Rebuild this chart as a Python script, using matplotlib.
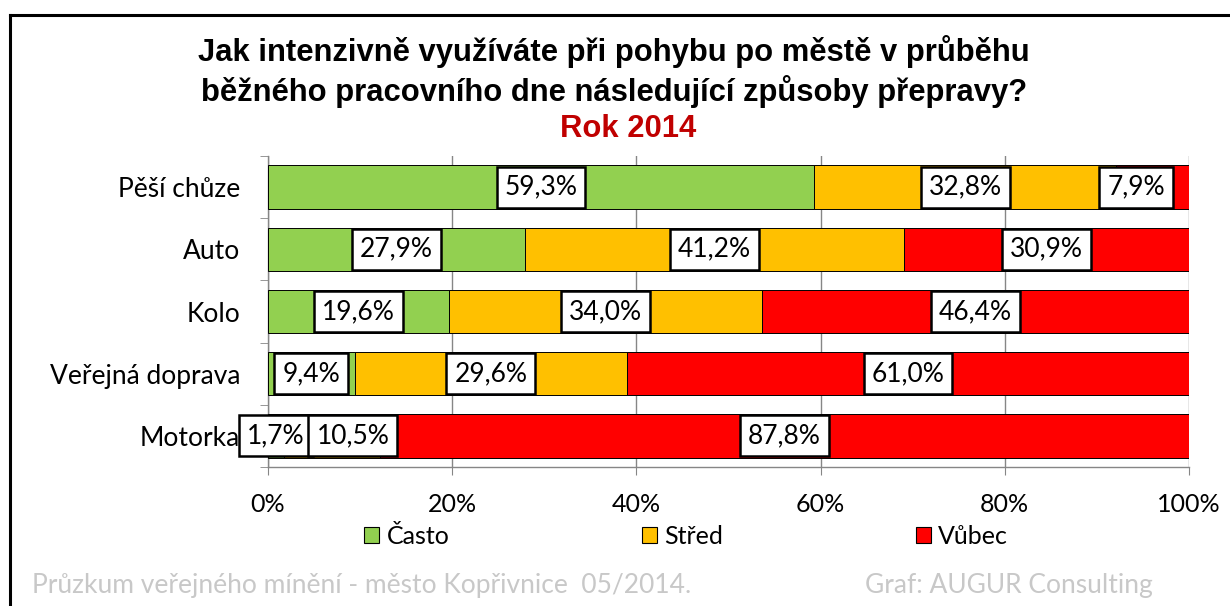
import matplotlib
matplotlib.use("Agg")
import matplotlib.pyplot as plt
import numpy as np
from matplotlib.patches import Patch
from matplotlib.lines import Line2D

# data
categories = ['Pěší chůze', 'Auto', 'Kolo', 'Veřejná doprava', 'Motorka']
series_names = ['Často', 'Střed', 'Vůbec']
casto = [59.3, 27.9, 19.6, 9.4, 1.7]
stred = [32.8, 41.2, 34.0, 29.6, 10.5]
vubec = [7.9, 30.9, 46.4, 61.0, 87.8]
tick_values = [0, 20, 40, 60, 80, 100]

colors = ['#92d050', '#ffc000', '#ff0000']
plt.rcParams['font.family'] = ['Lato', 'DejaVu Sans']

# posuny popisku (v bodech), kde je Excel odsunul kvuli prekryvu
nudges = {('Motorka', 'Střed'): 15, ('Pěší chůze', 'Vůbec'): -12}

fig = plt.figure(figsize=(12.3, 6.06), dpi=100)
ax = fig.add_axes([268 / 1230, 139 / 606, 921 / 1230, 311 / 606])

y = np.arange(len(categories))
left = np.zeros(len(categories))
for name, vals, col in zip(series_names, [casto, stred, vubec], colors):
    vals = np.array(vals)
    ax.barh(y, vals, left=left, height=0.7, color=col, edgecolor='black',
            linewidth=0.7, label=name, zorder=3)
    # popisky uprostred segmentu
    for i, v in enumerate(vals):
        cx = left[i] + v / 2
        dx = nudges.get((categories[i], name), 0)
        ax.annotate(f'{v:.1f}%'.replace('.', ','), (cx, y[i]),
                    xytext=(dx, 0), textcoords='offset points',
                    ha='center', va='center', fontsize=19, zorder=5,
                    bbox=dict(boxstyle='square,pad=0.3', fc='white',
                              ec='black', lw=1.8))
    left = left + vals

ax.set_xlim(0, 100)
ax.set_ylim(len(categories) - 0.5, -0.5)
ax.set_xticks(tick_values)
ax.set_xticklabels([f'{t}%' for t in tick_values], fontsize=18)
ax.set_yticks(y)
ax.set_yticklabels(categories, fontsize=19)
ax.set_yticks(np.arange(len(categories) + 1) - 0.5, minor=True)
ax.tick_params(axis='y', which='major', length=0, pad=20)
ax.tick_params(axis='y', which='minor', length=6, color='#868686', direction='out')
ax.tick_params(axis='x', length=6, color='#868686', pad=13)
ax.xaxis.grid(True, color='#868686', linewidth=1, zorder=0)
for s in ['top', 'right']:
    ax.spines[s].set_visible(False)
for s in ['left', 'bottom']:
    ax.spines[s].set_color('#868686')
    ax.spines[s].set_linewidth(1)

# legenda
handles = [Patch(facecolor=c, edgecolor='black', linewidth=0.8) for c in colors]
fig.legend(handles, series_names, loc='center', bbox_to_anchor=(686 / 1230, 1 - 536 / 606),
           ncol=3, frameon=False, fontsize=18, handlelength=0.6, handleheight=0.6,
           handletextpad=0.3, columnspacing=7.7)

# titulek
title_font = dict(ha='center', va='center', fontsize=22.3, fontweight='bold',
                  family='Liberation Sans')
fig.text(614 / 1230, 1 - 52 / 606, 'Jak intenzivně využíváte při pohybu po městě v průběhu',
         **title_font)
fig.text(614 / 1230, 1 - 92 / 606, 'běžného pracovního dne následující způsoby přepravy?',
         **title_font)
fig.text(628 / 1230, 1 - 129 / 606, 'Rok 2014', color='#c00000', **title_font)

# paticka
fig.text(32 / 1230, 1 - 586 / 606, 'Průzkum veřejného mínění - město Kopřivnice  05/2014.',
         ha='left', va='center', fontsize=19, color='#c8c8c8')
fig.text(865 / 1230, 1 - 586 / 606, 'Graf: AUGUR Consulting',
         ha='left', va='center', fontsize=19, color='#c8c8c8')

# ramecek
fig.add_artist(Line2D([10 / 1230, 1.0], [1 - 15 / 606, 1 - 15 / 606], color='black', lw=2.2,
                      transform=fig.transFigure))
fig.add_artist(Line2D([10 / 1230, 10 / 1230], [0, 1 - 15 / 606], color='black', lw=2.2,
                      transform=fig.transFigure))

fig.savefig('out.png', dpi=100)
